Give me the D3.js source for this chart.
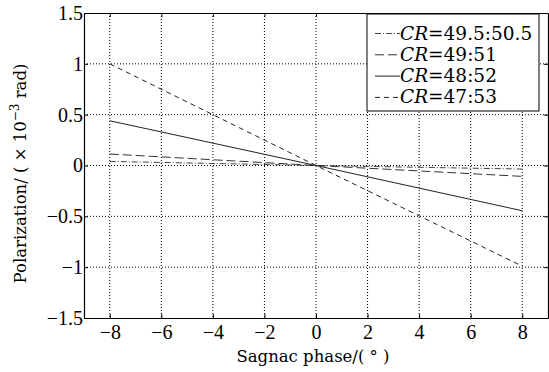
<!DOCTYPE html>
<html>
<head>
<meta charset="utf-8">
<script src="https://cdn.jsdelivr.net/npm/d3@7"></script>
<style>
  body { margin: 0; background: #fff; }
  svg { display: block; font-family: "Liberation Serif", "DejaVu Serif", serif; }
</style>
</head>
<body>
<svg id="chart" width="549" height="372"></svg>
<script>
// x values (Sagnac phase, degrees)
const phase = [-8, 0, 8];
// polarization values (x10^-3 rad) per coupling ratio
const cr495 = [0.04, 0, -0.035];
const cr49 = [0.113, 0, -0.107];
const cr48 = [0.44, 0, -0.445];
const cr47 = [1.0, 0, -0.99];
const seriesNames = ['49.5:50.5', '49:51', '48:52', '47:53'];
const xTicks = [-8, -6, -4, -2, 0, 2, 4, 6, 8];
const yTicks = [-1.5, -1, -0.5, 0, 0.5, 1, 1.5];

const dashes = ['6,2,1,2', '9,4', null, '5,4'];
const strokes = ['#444', '#333', '#222', '#222'];
const allSeries = [cr495, cr49, cr48, cr47];

const svg = d3.select('#chart');
const mLeft = 84, mRight = 548, mTop = 13, mBottom = 318;

const x = d3.scaleLinear().domain([-9, 9]).range([mLeft, mRight]);
const y = d3.scaleLinear().domain([-1.5, 1.5]).range([mBottom, mTop]);

const fmt = v => (v < 0 ? '\u2212' : '') + Math.abs(v);

// grid
svg.append('g').selectAll('line').data(xTicks).join('line')
  .attr('x1', d => x(d)).attr('x2', d => x(d))
  .attr('y1', mTop).attr('y2', mBottom)
  .attr('stroke', '#000').attr('stroke-width', 1).attr('stroke-dasharray', '1,2');
svg.append('g').selectAll('line').data(yTicks.slice(1, -1)).join('line')
  .attr('x1', mLeft).attr('x2', mRight)
  .attr('y1', d => y(d)).attr('y2', d => y(d))
  .attr('stroke', '#000').attr('stroke-width', 1).attr('stroke-dasharray', '1,2');

// axes with inward ticks
const xAxis = svg.append('g').attr('transform', `translate(0,${mBottom})`)
  .call(d3.axisBottom(x).tickValues(xTicks).tickFormat(fmt).tickSizeInner(-4).tickSizeOuter(0).tickPadding(7));
const xAxisTop = svg.append('g').attr('transform', `translate(0,${mTop})`)
  .call(d3.axisTop(x).tickValues(xTicks).tickFormat('').tickSizeInner(-4).tickSizeOuter(0));
const yAxis = svg.append('g').attr('transform', `translate(${mLeft},0)`)
  .call(d3.axisLeft(y).tickValues(yTicks).tickFormat(fmt).tickSizeInner(-4).tickSizeOuter(0).tickPadding(1));
const yAxisRight = svg.append('g').attr('transform', `translate(${mRight},0)`)
  .call(d3.axisRight(y).tickValues(yTicks).tickFormat('').tickSizeInner(-4).tickSizeOuter(0));

[xAxis, xAxisTop, yAxis, yAxisRight].forEach(a => {
  a.select('.domain').attr('stroke', '#000').attr('stroke-width', 1.2);
  a.selectAll('text').attr('font-size', 20).attr('fill', '#000')
    .attr('font-family', '"Liberation Serif", serif');
});

// lines
const line = d3.line().x((d, i) => x(phase[i])).y(d => y(d));
allSeries.forEach((s, k) => {
  svg.append('path').datum(s)
    .attr('d', line)
    .attr('fill', 'none')
    .attr('stroke', strokes[k])
    .attr('stroke-width', 1)
    .attr('stroke-dasharray', dashes[k]);
});

// legend
const lg = svg.append('g');
lg.append('rect').attr('x', 367).attr('y', mTop + 1).attr('width', 172).attr('height', 97)
  .attr('fill', '#fff').attr('stroke', '#000').attr('stroke-width', 1);
seriesNames.forEach((n, k) => {
  const base = 39.5 + k * 21.3;
  lg.append('line').attr('x1', 375).attr('x2', 400).attr('y1', base - 6).attr('y2', base - 6)
    .attr('stroke', strokes[k]).attr('stroke-width', 1).attr('stroke-dasharray', dashes[k]);
  const t = lg.append('text').attr('x', 400).attr('y', base).attr('font-size', 18.5).attr('fill', '#000')
    .attr('font-family', '"DejaVu Serif", serif');
  t.append('tspan').attr('font-style', 'italic').text('CR');
  t.append('tspan').text('=' + n);
});

// axis labels
const yl = svg.append('text')
  .attr('transform', `translate(26,${(mTop + mBottom) / 2 + 8}) rotate(-90)`)
  .attr('text-anchor', 'middle').attr('font-size', 16.5).attr('fill', '#000')
  .attr('font-family', '"DejaVu Serif", serif');
yl.append('tspan').text('Polarization/ ( \u00d7 10');
yl.append('tspan').attr('dy', -7).attr('font-size', 12).text('\u22123');
yl.append('tspan').attr('dy', 7).text(' rad)');

svg.append('text').attr('x', 313).attr('y', 362).attr('text-anchor', 'middle')
  .attr('font-size', 16.5).attr('fill', '#000')
  .attr('font-family', '"DejaVu Serif", serif')
  .text('Sagnac phase/( \u00b0 )');
</script>
</body>
</html>
